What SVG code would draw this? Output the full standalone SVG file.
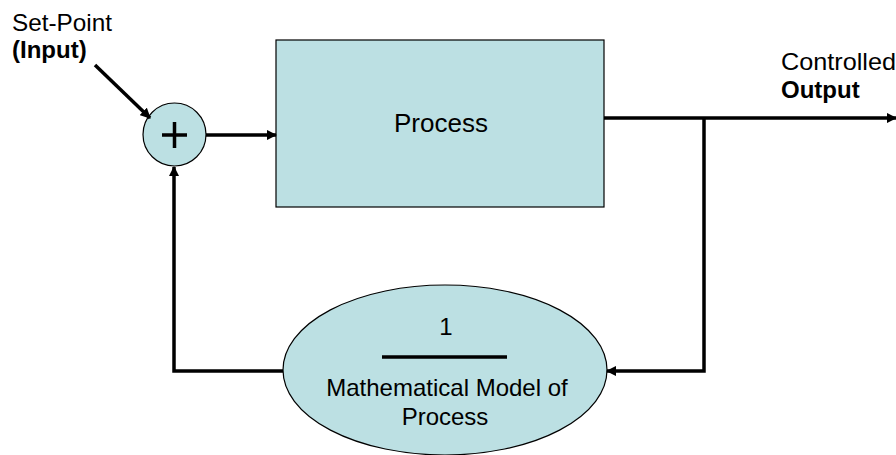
<svg xmlns="http://www.w3.org/2000/svg" width="896" height="455" viewBox="0 0 896 455">
<style>
.shape{fill:#BCE0E3;stroke:#000;stroke-width:1.2}
.wire{fill:none;stroke:#000;stroke-width:3.5}
.t{font-family:"Liberation Sans",Arial,sans-serif;fill:#000;font-size:24px}
</style>
<defs>
<marker id="ah" viewBox="0 0 10 10" refX="9" refY="5" markerWidth="3" markerHeight="3" orient="auto" markerUnits="strokeWidth">
<path d="M0,0 L10,5 L0,10 z" fill="#000"/>
</marker>
</defs>
<rect width="896" height="455" fill="#fff"/>
<g id="labels">
<text class="t" x="12" y="31" textLength="100" lengthAdjust="spacingAndGlyphs">Set-Point</text>
<text class="t" x="12" y="58" font-weight="bold">(Input)</text>
<text class="t" x="781" y="70" textLength="115" lengthAdjust="spacingAndGlyphs">Controlled</text>
<text class="t" x="781" y="98" font-weight="bold">Output</text>
</g>
<g id="sum">
<circle class="shape" cx="174.5" cy="134.5" r="31.5"/>
<path d="M162 135 H187 M174.5 122 V148" stroke="#000" stroke-width="3.5" fill="none"/>
</g>
<g id="process">
<rect class="shape" x="276" y="40" width="328" height="167"/>
<text class="t" x="441" y="132" style="font-size:26px" text-anchor="middle">Process</text>
</g>
<g id="model">
<ellipse class="shape" cx="445" cy="370" rx="162" ry="85"/>
<text class="t" x="446" y="335" text-anchor="middle">1</text>
<line x1="382" y1="357" x2="507" y2="357" stroke="#000" stroke-width="3.5"/>
<text class="t" x="447" y="396" text-anchor="middle">Mathematical Model of</text>
<text class="t" x="445" y="425" text-anchor="middle">Process</text>
</g>
<g id="connectors">
<line class="wire" x1="95" y1="65" x2="150" y2="118" marker-end="url(#ah)"/>
<line class="wire" x1="206" y1="135" x2="276" y2="135" marker-end="url(#ah)"/>
<line class="wire" x1="604" y1="118" x2="896" y2="118" marker-end="url(#ah)"/>
<polyline class="wire" points="704,118 704,371 607,371" marker-end="url(#ah)"/>
<polyline class="wire" points="283,371 174,371 174,167" marker-end="url(#ah)"/>
</g>
</svg>
